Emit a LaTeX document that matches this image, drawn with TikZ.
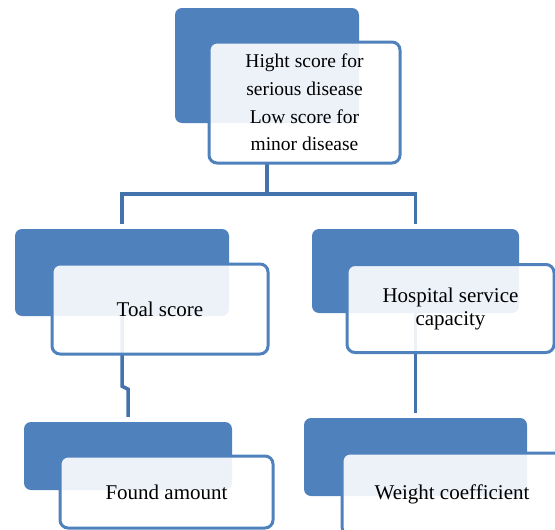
\documentclass[tikz,border=0pt]{standalone}
\usepackage{fontspec}
\setmainfont{Liberation Serif}
\usepackage{xcolor}
\definecolor{boxblue}{RGB}{79,129,189}
\definecolor{linkblue}{RGB}{68,114,172}
\usetikzlibrary{positioning}

\begin{document}
\begin{tikzpicture}[x=1pt, y=-1pt,
  back/.style={fill=boxblue, rounded corners=7pt, inner sep=0pt},
  front/.style={draw=boxblue, line width=3pt, fill=white, fill opacity=0.9, text opacity=1,
    rounded corners=8pt, inner sep=0pt, align=center, font=\fontsize{21}{23}\selectfont},
  link/.style={draw=linkblue, line width=3.5pt, shorten >=5pt}
]
  \clip (0,0) rectangle (555,530);

  % back boxes
  \node[back, minimum width=184pt, minimum height=115pt] (topback) at (267,65.5) {};
  \node[back, minimum width=214pt, minimum height=87pt] (leftback) at (122,272.5) {};
  \node[back, minimum width=207pt, minimum height=84pt] (rightback) at (415.5,271) {};
  \node[back, minimum width=208pt, minimum height=68pt] (lowleftback) at (128,456) {};
  \node[back, minimum width=223pt, minimum height=78pt] (lowrightback) at (415.5,457) {};

  % tree lines
  \coordinate (fork) at (267,194);
  \draw[link] (topback.south |- 0,163) -- (fork) -| (leftback.north);
  \draw[link] (fork) -| (rightback.north);
  \draw[link] (leftback.south) -- ++(0,70) -- ++(6,3) -- (lowleftback.north);
  \draw[link] (rightback.south) -- (lowrightback.north);

  % front boxes
  \node[front, minimum width=191pt, minimum height=121pt,
    font=\fontsize{19.5}{27.7}\selectfont] (topfront) at (304.5,102.5)
    {Hight score for\\serious disease\\Low score for\\minor disease};
  \node[front, minimum width=216pt, minimum height=90pt] (leftfront) at (160,309) {Toal score};
  \node[front, minimum width=207pt, minimum height=88pt] (rightfront) at (450.5,308.5) {Hospital service\\capacity};
  \node[front, minimum width=213pt, minimum height=72pt] (lowleftfront) at (166.5,492) {Found amount};
  \node[front, minimum width=220pt, minimum height=82pt] (lowrightfront) at (452,494) {Weight coefficient};
\end{tikzpicture}
\end{document}
